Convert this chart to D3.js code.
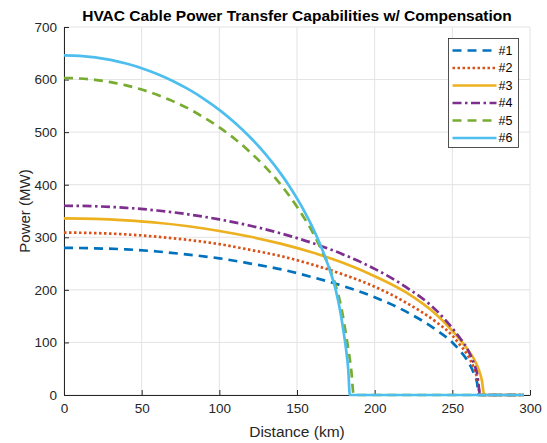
<!DOCTYPE html>
<html>
<head>
<meta charset="utf-8">
<script src="https://cdn.jsdelivr.net/npm/d3@7"></script>
<style>
  html, body { margin: 0; padding: 0; background: #fff; }
  svg { display: block; font-family: "Liberation Sans", Arial, Helvetica, sans-serif; }
</style>
</head>
<body>
<svg id="chart" width="547" height="443"></svg>
<script>
// Distance samples (km) and transferred power (MW) for each cable case
const dist1 = [0, 20, 40, 60, 80, 100, 120, 140, 160, 180, 200, 220, 240, 250, 255, 260, 264, 266, 267, 296];
const pow1  = [280, 279, 277, 273, 267, 260, 250, 239, 224, 207, 186, 159, 123, 100, 84, 64, 40, 22, 0, 0];

const dist2 = [0, 20, 40, 60, 80, 100, 120, 140, 160, 180, 200, 220, 240, 250, 255, 260, 264, 266, 268, 296];
const pow2  = [309, 308, 305.5, 301, 295, 287, 276, 264, 248, 229, 206, 176, 138, 113, 95, 75, 50, 32, 0, 0];

const dist3 = [0, 20, 40, 60, 80, 100, 120, 140, 160, 180, 200, 220, 240, 250, 255, 260, 264, 267, 269, 270.5, 296];
const pow3  = [336, 335, 332, 327.6, 321, 312, 301, 287.5, 271, 251, 226, 195.5, 152, 122, 105, 86, 68, 48, 28, 0, 0];

const dist4 = [0, 20, 40, 60, 80, 100, 120, 140, 160, 180, 200, 220, 240, 250, 255, 260, 264, 266, 268, 296];
const pow4  = [360, 359, 356, 351, 343.6, 334, 322, 307, 289, 267, 240, 205.6, 160, 127, 108, 86, 59, 40, 0, 0];

const dist5 = [0, 10, 20, 30, 40, 50, 60, 70, 80, 90, 100, 110, 120, 130, 140, 150, 155, 160, 165, 170, 175, 178, 181, 183, 185, 186.5, 296];
const pow5  = [603, 602, 599.5, 595, 589, 581, 571, 559, 545, 528, 509, 487, 461.5, 432.5, 398.5, 358, 335, 310, 281, 248, 207, 174, 125, 88, 45, 0, 0];

const dist6 = [0, 10, 20, 30, 40, 50, 60, 70, 80, 90, 100, 110, 120, 130, 140, 145, 150, 155, 160, 165, 170, 175, 178, 180, 182, 183, 184, 296];
const pow6  = [646, 645, 642.2, 637.4, 630.5, 621.7, 610.7, 597.4, 581.7, 563.4, 542.3, 517.8, 489.7, 457.2, 419.2, 397.7, 374, 348, 319, 286, 247, 199, 157, 120, 77, 48, 0, 0];

const seriesNames = ["#1", "#2", "#3", "#4", "#5", "#6"];
const xTicks = [0, 50, 100, 150, 200, 250, 300];
const yTicks = [0, 100, 200, 300, 400, 500, 600, 700];

const titleText = "HVAC Cable Power Transfer Capabilities w/ Compensation";
const xLabel = "Distance (km)";
const yLabel = "Power (MW)";

const seriesData = [
  [dist1, pow1], [dist2, pow2], [dist3, pow3],
  [dist4, pow4], [dist5, pow5], [dist6, pow6]
].map(([d, p], i) => ({
  name: seriesNames[i],
  points: d.map((x, j) => ({ x, y: p[j] }))
}));

// Line appearance per series
const colors = ["#0072BD", "#D95319", "#EDB120", "#7E2F8E", "#77AC30", "#4DBEEE"];
const dashes = ["9,6", "2.5,2.5", null, "9,3.5,2.5,3.5", "9,6", null];
const lineW = 2.7;

const svg = d3.select("#chart");
const margin = { left: 64, right: 17, top: 27, bottom: 48 };
const W = 547, H = 443;
const plotW = W - margin.left - margin.right;
const plotH = H - margin.top - margin.bottom;

const x = d3.scaleLinear().domain([0, 300]).range([margin.left, margin.left + plotW]);
const y = d3.scaleLinear().domain([0, 700]).range([margin.top + plotH, margin.top]);

const axisColor = "#262626";
const gridColor = "#e3e3e3";

// Grid
const grid = svg.append("g");
grid.selectAll("line.vx").data(xTicks).join("line")
  .attr("x1", d => x(d)).attr("x2", d => x(d))
  .attr("y1", y(0)).attr("y2", y(700))
  .attr("stroke", gridColor).attr("stroke-width", 1);
grid.selectAll("line.hy").data(yTicks).join("line")
  .attr("x1", x(0)).attr("x2", x(300))
  .attr("y1", d => y(d)).attr("y2", d => y(d))
  .attr("stroke", gridColor).attr("stroke-width", 1);

// Axes
const xAxis = d3.axisBottom(x).tickValues(xTicks).tickSizeInner(-5).tickSizeOuter(0).tickPadding(8);
const yAxis = d3.axisLeft(y).tickValues(yTicks).tickSizeInner(-5).tickSizeOuter(0).tickPadding(7);

const gx = svg.append("g").attr("transform", `translate(0,${y(0)})`).call(xAxis);
const gy = svg.append("g").attr("transform", `translate(${x(0)},0)`).call(yAxis);
[gx, gy].forEach(g => {
  g.select(".domain").attr("stroke", axisColor).attr("stroke-width", 1);
  g.selectAll(".tick line").attr("stroke", axisColor);
  g.selectAll(".tick text").attr("fill", axisColor).attr("font-size", 13.5)
    .attr("font-family", "'Liberation Sans', Arial, sans-serif");
});

// Series lines
const line = d3.line().x(d => x(d.x)).y(d => y(d.y)).curve(d3.curveMonotoneX);
svg.append("g").selectAll("path").data(seriesData).join("path")
  .attr("d", d => line(d.points))
  .attr("fill", "none")
  .attr("stroke", (d, i) => colors[i])
  .attr("stroke-width", lineW)
  .attr("stroke-dasharray", (d, i) => dashes[i])
  .attr("stroke-linejoin", "round");

// Title and axis labels
svg.append("text")
  .attr("x", x(150)).attr("y", 21)
  .attr("text-anchor", "middle")
  .attr("font-size", 15.5).attr("font-weight", "bold")
  .attr("fill", "#000")
  .text(titleText);

svg.append("text")
  .attr("x", x(150)).attr("y", 437)
  .attr("text-anchor", "middle")
  .attr("font-size", 15.5).attr("fill", axisColor)
  .text(xLabel);

svg.append("text")
  .attr("transform", `translate(30,${y(350)}) rotate(-90)`)
  .attr("text-anchor", "middle")
  .attr("font-size", 15).attr("fill", axisColor)
  .text(yLabel);

// Legend
const lg = svg.append("g").attr("transform", "translate(448.5,38.5)");
lg.append("rect").attr("width", 70).attr("height", 109)
  .attr("fill", "#fff").attr("stroke", axisColor).attr("stroke-width", 0.8);
seriesData.forEach((s, i) => {
  const yy = 12 + i * 17.5;
  lg.append("line")
    .attr("x1", 4).attr("x2", 48).attr("y1", yy).attr("y2", yy)
    .attr("stroke", colors[i]).attr("stroke-width", lineW)
    .attr("stroke-dasharray", dashes[i]);
  lg.append("text")
    .attr("x", 50).attr("y", yy).attr("dy", "0.35em")
    .attr("font-size", 12.5).attr("fill", "#000")
    .text(s.name);
});
</script>
</body>
</html>
